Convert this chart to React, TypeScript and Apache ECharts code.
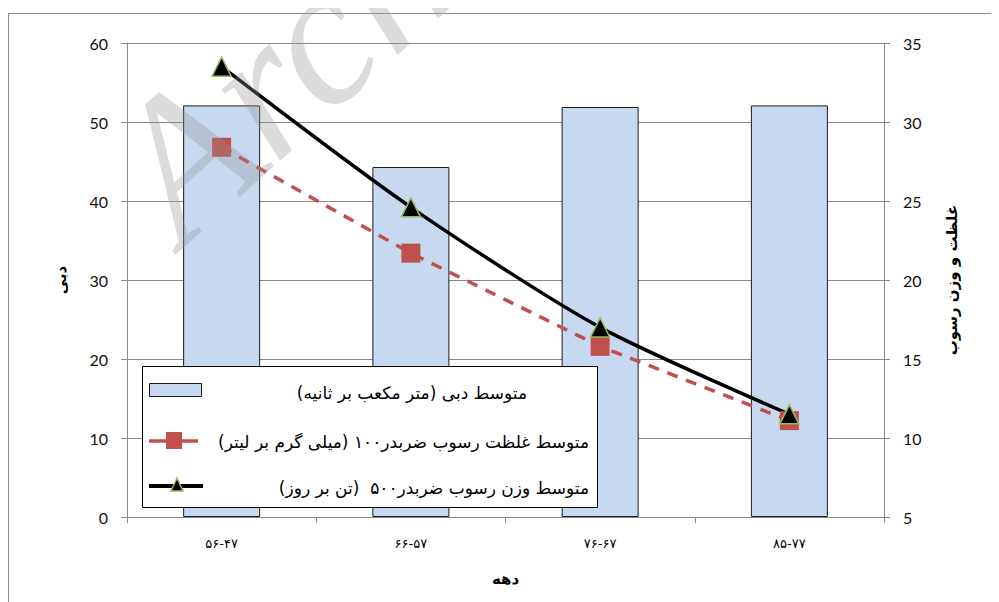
import React, { useEffect, useRef } from "react";
import * as echarts from "echarts";

const categories = ["۵۶-۴۷", "۶۶-۵۷", "۷۶-۶۷", "۸۵-۷۷"];
const dischargeValues = [52.1, 44.3, 51.9, 52.1];
const concentrationValues = [28.4, 21.7, 15.8, 11.1];
const weightValues = [33.5, 24.6, 17.0, 11.5];
const leftTicks = { min: 0, max: 60, interval: 10 };
const rightTicks = { min: 5, max: 35, interval: 5 };

const legendNames = [
  "\u200Fمتوسط دبی (متر مکعب بر ثانیه)\u200F",
  "\u200Fمتوسط غلظت رسوب ضربدر۱۰۰ (میلی گرم بر لیتر)\u200F",
  "\u200Fمتوسط وزن رسوب ضربدر۵۰۰  (تن بر روز)\u200F",
];
const xAxisName = "دهه";
const leftAxisName = "دبی";
const rightAxisName = "غلظت و وزن رسوب";
const watermark = "Archive of SID";

const persianFont = "'DejaVu Sans', 'Noto Sans', sans-serif";
const numFont = "Lato, 'Open Sans', sans-serif";

// page offset (body margin)
const O = 8;

export default function App() {
  const ref = useRef<HTMLDivElement>(null);
  useEffect(() => {
    if (!ref.current) return;
    const chart = echarts.init(ref.current, null, { renderer: "svg" });
    const gridColor = "#898989";
    const legendZ = 100;
    chart.setOption({
      animation: false,
      backgroundColor: "#fff",
      grid: { left: 127 - O, right: 115, top: 43 - O, bottom: 85 },
      xAxis: {
        type: "category",
        data: categories,
        name: xAxisName,
        nameLocation: "middle",
        nameGap: 54,
        nameTextStyle: { fontFamily: persianFont, fontSize: 15, fontWeight: "bold", color: "#000" },
        axisLine: { lineStyle: { color: gridColor, width: 1 } },
        axisTick: { show: true, length: 6, lineStyle: { color: gridColor } },
        axisLabel: { margin: 20, fontFamily: persianFont, fontSize: 13, color: "#000" },
      },
      yAxis: [
        {
          type: "value",
          min: leftTicks.min,
          max: leftTicks.max,
          interval: leftTicks.interval,
          name: leftAxisName,
          nameLocation: "middle",
          nameRotate: 90,
          nameGap: 59,
          nameTextStyle: { fontFamily: persianFont, fontSize: 15, fontWeight: "bold", color: "#000" },
          axisLine: { show: true, lineStyle: { color: gridColor } },
          axisTick: { show: true, length: 6, lineStyle: { color: gridColor } },
          axisLabel: { margin: 19, fontFamily: numFont, fontSize: 16, color: "#111" },
          splitLine: { show: true, lineStyle: { color: gridColor, width: 1 } },
        },
        {
          type: "value",
          position: "right",
          min: rightTicks.min,
          max: rightTicks.max,
          interval: rightTicks.interval,
          name: rightAxisName,
          nameLocation: "middle",
          nameRotate: 90,
          nameGap: 60,
          nameTextStyle: { fontFamily: persianFont, fontSize: 15, fontWeight: "bold", color: "#000" },
          axisLine: { show: true, lineStyle: { color: gridColor } },
          axisTick: { show: true, length: 6, lineStyle: { color: gridColor } },
          axisLabel: { margin: 19, fontFamily: numFont, fontSize: 16, color: "#111" },
          splitLine: { show: false },
        },
      ],
      series: [
        {
          type: "bar",
          name: legendNames[0],
          data: dischargeValues,
          yAxisIndex: 0,
          barWidth: 77,
          itemStyle: { color: "#c6d9f1", borderColor: "#1a1a1a", borderWidth: 1 },
        },
        {
          type: "line",
          name: legendNames[1],
          data: concentrationValues,
          yAxisIndex: 1,
          symbol: "rect",
          symbolSize: 19,
          lineStyle: { color: "#c0504d", width: 3.5, type: [11, 9] },
          itemStyle: { color: "#c0504d", borderWidth: 0 },
        },
        {
          type: "line",
          name: legendNames[2],
          data: weightValues,
          yAxisIndex: 1,
          smooth: 0.25,
          symbol: "triangle",
          symbolSize: [19, 19],
          lineStyle: { color: "#000", width: 3.5 },
          itemStyle: { color: "#000", borderColor: "#9bbb59", borderWidth: 1.5 },
        },
      ],
      graphic: [
        {
          type: "rect",
          z: -10,
          silent: true,
          shape: { x: 0.5, y: 13.5 - O, width: 1200, height: 800 },
          style: { fill: "none", stroke: "#8c8c8c", lineWidth: 1 },
        },
        {
          type: "rect",
          z: legendZ,
          shape: { x: 142.5 - O, y: 366.5 - O, width: 455, height: 141 },
          style: { fill: "#fff", stroke: "#000", lineWidth: 1 },
        },
        {
          type: "rect",
          z: legendZ + 1,
          shape: { x: 149.5 - O, y: 383.5 - O, width: 52, height: 13 },
          style: { fill: "#c6d9f1", stroke: "#1a1a1a", lineWidth: 1 },
        },
        {
          type: "text",
          z: legendZ + 1,
          style: { text: legendNames[0], x: 527 - O, y: 393 - O, align: "right", verticalAlign: "middle", fontFamily: persianFont, fontSize: 17, fill: "#000" },
        },
        {
          type: "line",
          z: legendZ + 1,
          shape: { x1: 149 - O, y1: 441 - O, x2: 198 - O, y2: 441 - O },
          style: { stroke: "#c0504d", lineWidth: 3.5 },
        },
        {
          type: "rect",
          z: legendZ + 2,
          shape: { x: 166 - O, y: 432 - O, width: 16, height: 17 },
          style: { fill: "#c0504d" },
        },
        {
          type: "text",
          z: legendZ + 1,
          style: { text: legendNames[1], x: 589 - O, y: 442 - O, align: "right", verticalAlign: "middle", fontFamily: persianFont, fontSize: 17, fill: "#000" },
        },
        {
          type: "line",
          z: legendZ + 1,
          shape: { x1: 149 - O, y1: 486 - O, x2: 203 - O, y2: 486 - O },
          style: { stroke: "#000", lineWidth: 4 },
        },
        {
          type: "polygon",
          z: legendZ + 2,
          shape: { points: [[177 - O, 478 - O], [171 - O, 491 - O], [183 - O, 491 - O]] },
          style: { fill: "#000", stroke: "#9bbb59", lineWidth: 1.5 },
        },
        {
          type: "text",
          z: legendZ + 1,
          style: { text: legendNames[2], x: 589 - O, y: 488 - O, align: "right", verticalAlign: "middle", fontFamily: persianFont, fontSize: 17, fill: "#000" },
        },
        {
          type: "text",
          z: 200,
          silent: true,
          x: 205 - O,
          y: 272 - O,
          rotation: (42 * Math.PI) / 180,
          style: {
            text: watermark,
            fontFamily: "'Liberation Serif', serif",
            fontStyle: "italic",
            fontSize: 200,
            fill: "rgba(150,150,150,0.33)",
            align: "left",
            verticalAlign: "bottom",
          },
        },
      ],
    });
    return () => chart.dispose();
  }, []);
  return <div ref={ref} style={{ width: 999 - O, height: 602 - O }} />;
}
